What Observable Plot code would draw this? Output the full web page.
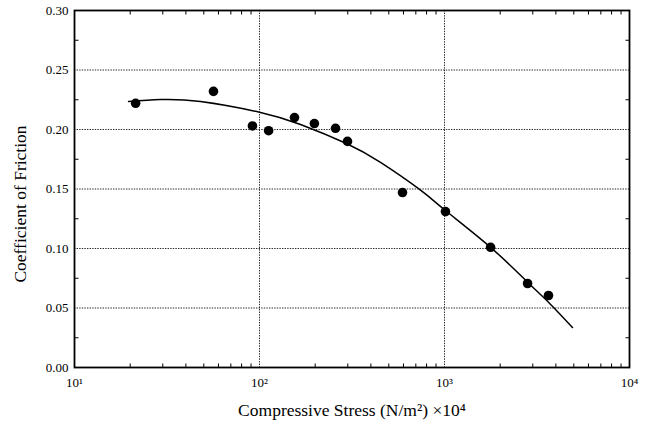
<!DOCTYPE html>
<html><head><meta charset="utf-8">
<script src="https://cdn.jsdelivr.net/npm/d3@7"></script>
<script src="https://cdn.jsdelivr.net/npm/@observablehq/plot@0.6"></script>
<style>
body{margin:0;background:#fff}
#chart svg{font-family:"Liberation Serif","DejaVu Serif",serif;background:#fff}
</style>
</head><body><div id="chart"></div>
<script>
// Measured points
const stress = [21.4, 56.4, 91.6, 112, 154.6, 198, 257.6, 299, 593, 1012, 1775, 2812, 3648];
const friction = [0.222, 0.232, 0.203, 0.199, 0.210, 0.205, 0.201, 0.190, 0.147, 0.131, 0.101, 0.0706, 0.0605];
// Fitted curve
const curveStress = [19.6, 29.2, 48.0, 100, 166.7, 295, 451, 742, 1012, 1774, 2812, 3648, 4920];
const curveFriction = [0.2235, 0.2252, 0.2235, 0.2145, 0.2042, 0.1882, 0.1723, 0.1490, 0.1319, 0.1010, 0.0717, 0.0549, 0.0336];
// Ticks
const yLabelTicks = [0, 0.05, 0.10, 0.15, 0.20, 0.25, 0.30];
const yMinorTicks = [0.025, 0.075, 0.125, 0.175, 0.225, 0.275];
const gridY = [0.05, 0.10, 0.15, 0.20, 0.25];
const gridX = [100, 1000];
const xLabelTicks = [10, 100, 1000, 10000];
const xTickLabels = ["10\u00B9", "10\u00B2", "10\u00B3", "10\u2074"];
const decades = [10, 100, 1000];
const minorMultipliers = [2, 3, 4, 5, 6, 7, 8, 9];
const xTitle = "Compressive Stress (N/m\u00B2) \u00D710\u2074";
const yTitle = "Coefficient of Friction";

const points = stress.map((s, i) => ({s, f: friction[i]}));
const curve = curveStress.map((s, i) => ({s, f: curveFriction[i]}));
const xMinor = decades.flatMap(d => minorMultipliers.map(m => d * m));

const L = 4;
const tickUp = {draw(c) { c.moveTo(0, 0); c.lineTo(0, -L); }};
const tickDown = {draw(c) { c.moveTo(0, 0); c.lineTo(0, L); }};
const tickRight = {draw(c) { c.moveTo(0, 0); c.lineTo(L, 0); }};
const tickLeft = {draw(c) { c.moveTo(0, 0); c.lineTo(-L, 0); }};

const grid = {stroke: "#111", strokeDasharray: "1.4,1.2", strokeWidth: 0.9};

const chart = Plot.plot({
  width: 649,
  height: 426,
  marginLeft: 74,
  marginRight: 20,
  marginTop: 10,
  marginBottom: 59,
  x: {type: "log", domain: [10, 10000]},
  y: {domain: [0, 0.30]},
  marks: [
    Plot.ruleY(gridY, grid),
    Plot.ruleX(gridX, grid),
    Plot.dot(xMinor, {x: d => d, frameAnchor: "bottom", symbol: tickUp, stroke: "black", fill: "none", strokeWidth: 1}),
    Plot.dot(xMinor, {x: d => d, frameAnchor: "top", symbol: tickDown, stroke: "black", fill: "none", strokeWidth: 1}),
    Plot.dot(yMinorTicks, {y: d => d, frameAnchor: "left", symbol: tickRight, stroke: "black", fill: "none", strokeWidth: 1}),
    Plot.dot(yMinorTicks, {y: d => d, frameAnchor: "right", symbol: tickLeft, stroke: "black", fill: "none", strokeWidth: 1}),
    Plot.frame({stroke: "black", strokeWidth: 1.8}),
    Plot.axisY(yLabelTicks, {tickSize: 0, tickPadding: 6, tickFormat: d3.format(".2f"), label: null, fontSize: 13, fill: "black"}),
    Plot.axisX(xLabelTicks, {tickSize: 0, tickPadding: 10, tickFormat: d => xTickLabels[xLabelTicks.indexOf(d)], label: null, fontSize: 13, fill: "black"}),
    Plot.line(curve, {x: "s", y: "f", curve: "natural", stroke: "black", strokeWidth: 1.5}),
    Plot.dot(points, {x: "s", y: "f", r: 4.8, fill: "black", stroke: "none"}),
    Plot.text([xTitle], {text: d => d, frameAnchor: "bottom", dy: 43, lineAnchor: "middle", textAnchor: "middle", fontSize: 17.5, fill: "black"}),
    Plot.text([yTitle], {text: d => d, frameAnchor: "left", dx: -54, dy: 15, rotate: -90, lineAnchor: "middle", textAnchor: "middle", fontSize: 17.5, fill: "black"})
  ]
});
document.getElementById("chart").appendChild(chart);
</script>
</body></html>
